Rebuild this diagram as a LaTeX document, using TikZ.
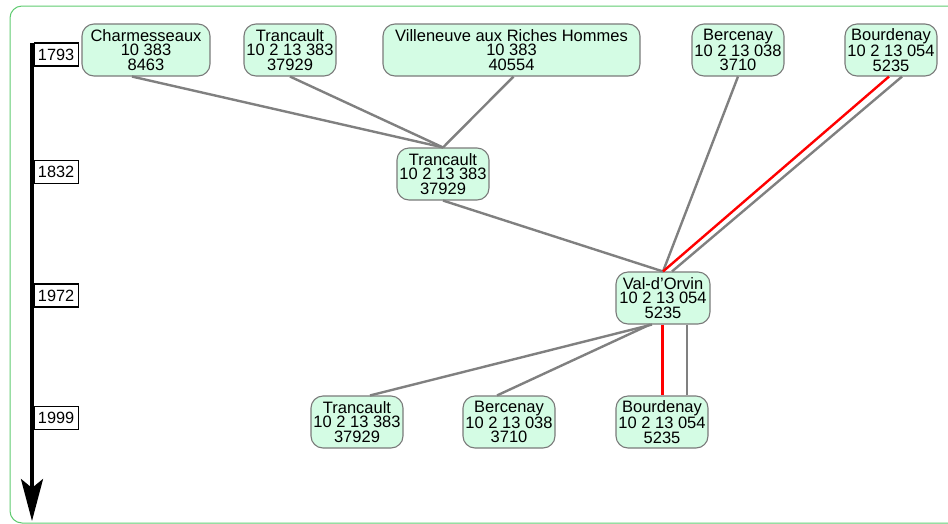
\documentclass[tikz,border=0pt]{standalone}
\usepackage{fontspec}
\setmainfont{Liberation Sans}
\usetikzlibrary{arrows.meta}
\definecolor{mint}{HTML}{D4FCE4}
\definecolor{nodeborder}{HTML}{7A7A7A}
\definecolor{edgegray}{HTML}{808080}
\definecolor{framegreen}{HTML}{5FCB70}
\tikzset{
  commune/.style={draw=nodeborder, line width=1.1pt, fill=mint, rounded corners=12pt,
    align=center, inner xsep=2pt, inner ysep=0pt, minimum height=52pt,
    font=\fontsize{16.5}{14.5}\selectfont},
  yearbox/.style={draw=black, line width=1.2pt, fill=white, anchor=west,
    minimum width=44pt, minimum height=23pt, inner sep=0pt,
    font=\fontsize{16.3}{16}\selectfont},
  edge/.style={draw=edgegray, line width=2.4pt},
  rededge/.style={draw=red, line width=2.4pt},
}
\begin{document}
\begin{tikzpicture}[x=1pt,y=-1pt]
\useasboundingbox (0,0) rectangle (948,523);
\draw[framegreen, line width=1pt, rounded corners=12pt] (10,6) rectangle (990,523);

% timeline
\coordinate (tl0) at (32,43);
\coordinate (tl1) at (32,521);
\draw[line width=3.6pt, -{Stealth[length=42pt,width=22pt,inset=9pt]}] (tl0) -- (tl1);
\node[yearbox] (y1793) at (33.5,54.5) {1793};
\node[yearbox] (y1832) at (33.5,172) {1832};
\node[yearbox] (y1972) at (33.5,295.5) {1972};
\node[yearbox] (y1999) at (33.5,418) {1999};

% nodes
\node[commune, minimum width=128pt] (charm) at (146,50) {Charmesseaux\\10 383\\8463};
\node[commune, minimum width=92pt] (tr93) at (290,50) {Trancault\\10 2 13 383\\37929};
\node[commune, minimum width=257pt] (vil) at (511.5,50) {Villeneuve aux Riches Hommes\\10 383\\40554};
\node[commune, minimum width=92pt] (ber93) at (738,50) {Bercenay\\10 2 13 038\\3710};
\node[commune, minimum width=92pt] (bou93) at (891,50) {Bourdenay\\10 2 13 054\\5235};
\node[commune, minimum width=92pt] (tr32) at (443,174) {Trancault\\10 2 13 383\\37929};
\node[commune, minimum width=94pt] (val) at (663,298) {Val-d\char39 Orvin\\10 2 13 054\\5235};
\node[commune, minimum width=92pt] (tr99) at (357,422) {Trancault\\10 2 13 383\\37929};
\node[commune, minimum width=92pt] (ber99) at (509,422) {Bercenay\\10 2 13 038\\3710};
\node[commune, minimum width=92pt] (bou99) at (662,422) {Bourdenay\\10 2 13 054\\5235};

% edges
\draw[edge] ([xshift=-14pt]charm.south) -- (tr32.north);
\draw[edge] (tr93.south) -- (tr32.north);
\draw[edge] ([xshift=2pt]vil.south) -- (tr32.north);
\draw[edge] (tr32.south) -- (val.north);
\draw[edge] (ber93.south) -- (val.north);
\draw[rededge] ([xshift=-2pt]bou93.south) -- (val.north);
\draw[edge] ([xshift=11pt]bou93.south) -- ([xshift=9pt]val.north);
\draw[edge] ([xshift=-11pt]val.south) -- ([xshift=13pt]tr99.north);
\draw[edge] ([xshift=-13pt]val.south) -- ([xshift=-12pt]ber99.north);
\draw[rededge] ([xshift=-0.5pt]val.south) -- ([xshift=0.5pt]bou99.north);
\draw[edge] ([xshift=24pt]val.south) -- ([xshift=25pt]bou99.north);
\end{tikzpicture}
\end{document}
